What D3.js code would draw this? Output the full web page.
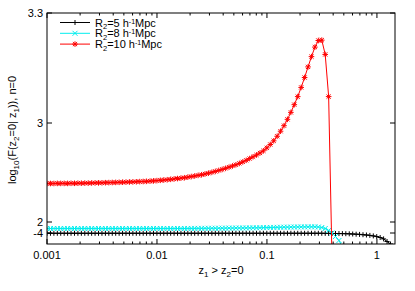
<!DOCTYPE html>
<html>
<head>
<meta charset="utf-8">
<script src="https://cdn.jsdelivr.net/npm/d3@7"></script>
<style>
  html, body { margin: 0; padding: 0; background: #fff; }
  svg text { font-family: "Liberation Sans", Arial, sans-serif; }
</style>
</head>
<body>
<div id="chart"></div>
<script>
'use strict'

// z1 sampling grid (log spaced)
const zGrid = [
  0.001, 0.001075, 0.001155, 0.001241, 0.001333, 0.001433, 0.00154, 0.001654, 0.001778, 0.00191,
  0.002053, 0.002206, 0.00237, 0.002547, 0.002737, 0.002941, 0.00316, 0.003396, 0.003649, 0.003921,
  0.004214, 0.004528, 0.004866, 0.005228, 0.005618, 0.006037, 0.006487, 0.006971, 0.007491, 0.008049,
  0.008649, 0.009294, 0.009987, 0.01073, 0.01153, 0.01239, 0.01332, 0.01431, 0.01538, 0.01652,
  0.01775, 0.01908, 0.0205, 0.02203, 0.02367, 0.02544, 0.02733, 0.02937, 0.03156, 0.03392,
  0.03644, 0.03916, 0.04208, 0.04522, 0.04859, 0.05221, 0.05611, 0.06029, 0.06479, 0.06962,
  0.07481, 0.08038, 0.08638, 0.09282, 0.09974, 0.1072, 0.1152, 0.1238, 0.133, 0.1429,
  0.1536, 0.165, 0.1773, 0.1905, 0.2047, 0.22, 0.2364, 0.254, 0.273, 0.2933,
  0.3152, 0.3387, 0.3639, 0.3911, 0.4202, 0.4516, 0.4852, 0.5214, 0.5603, 0.6021,
  0.647, 0.6952, 0.747, 0.8028, 0.8626, 0.9269, 0.996, 1.07, 1.15, 1.236,
  1.328
]

// R2 = 5 h^-1 Mpc
const r2_5 = [
  -4.16, -4.16, -4.16, -4.16, -4.16, -4.16, -4.16, -4.16, -4.16, -4.16,
  -4.16, -4.16, -4.16, -4.16, -4.16, -4.16, -4.16, -4.16, -4.16, -4.16,
  -4.16, -4.16, -4.16, -4.16, -4.16, -4.16, -4.16, -4.16, -4.16, -4.16,
  -4.16, -4.16, -4.16, -4.16, -4.16, -4.16, -4.16, -4.16, -4.16, -4.16,
  -4.16, -4.16, -4.16, -4.16, -4.16, -4.16, -4.16, -4.16, -4.16, -4.16,
  -4.16, -4.16, -4.16, -4.16, -4.16, -4.16, -4.16, -4.16, -4.16, -4.16,
  -4.16, -4.16, -4.16, -4.16, -4.16, -4.16, -4.16, -4.16, -4.16, -4.16,
  -4.16, -4.16, -4.16, -4.16, -4.16, -4.16, -4.16, -4.16, -4.16, -4.16,
  -4.16, -4.19, -4.22, -4.25, -4.27, -4.30, -4.33, -4.38, -4.44, -4.55,
  -4.65, -4.76, -4.93, -5.09, -5.31, -5.58, -5.96, -6.45, -7.22, -8.64,
  -10.0
]

// R2 = 8 h^-1 Mpc
const r2_8 = [
  -1.55, -1.55, -1.55, -1.55, -1.55, -1.55, -1.55, -1.55, -1.55, -1.55,
  -1.55, -1.55, -1.55, -1.55, -1.55, -1.55, -1.55, -1.55, -1.55, -1.55,
  -1.55, -1.55, -1.55, -1.55, -1.55, -1.55, -1.55, -1.55, -1.55, -1.55,
  -1.55, -1.55, -1.55, -1.55, -1.55, -1.55, -1.55, -1.55, -1.55, -1.55,
  -1.55, -1.53, -1.52, -1.50, -1.49, -1.47, -1.46, -1.44, -1.42, -1.41,
  -1.39, -1.37, -1.35, -1.33, -1.31, -1.29, -1.27, -1.25, -1.23, -1.20,
  -1.18, -1.15, -1.11, -1.07, -1.03, -0.99, -0.95, -0.91, -0.87, -0.83,
  -0.80, -0.77, -0.74, -0.71, -0.68, -0.66, -0.64, -0.63, -0.62, -0.73,
  -1.00, -1.55, -2.64, -4.00, -5.91, -8.09, -11.6
]

// R2 = 10 h^-1 Mpc
const r2_10 = [
  2.389, 2.389, 2.389, 2.390, 2.390, 2.390, 2.390, 2.391, 2.391, 2.392,
  2.392, 2.393, 2.393, 2.394, 2.395, 2.395, 2.396, 2.397, 2.398, 2.399,
  2.400, 2.401, 2.402, 2.403, 2.404, 2.405, 2.406, 2.408, 2.409, 2.411,
  2.413, 2.415, 2.418, 2.421, 2.424, 2.427, 2.431, 2.435, 2.439, 2.443,
  2.447, 2.453, 2.459, 2.465, 2.471, 2.477, 2.485, 2.493, 2.502, 2.511,
  2.521, 2.531, 2.542, 2.554, 2.566, 2.578, 2.592, 2.607, 2.623, 2.641,
  2.659, 2.677, 2.697, 2.719, 2.749, 2.783, 2.820, 2.866, 2.917, 2.973,
  3.010, 3.029, 3.050, 3.072, 3.097, 3.124, 3.153, 3.181, 3.207, 3.225,
  3.226, 3.187, 3.072, -20
]

const seriesNames = ['5', '8', '10']
const xTickValues = [0.001, 0.01, 0.1, 1]
const xTickLabels = ['0.001', '0.01', '0.1', '1']
const yTickValues = [3.3, 3, 2, -4]
const yTickLabels = ['3.3', '3', '2', '-4']

////////////////////////////////////
//////////// svg setup /////////////
////////////////////////////////////

const svgWidth = 415
const svgHeight = 291
const margin = { left: 47, right: 20, top: 13, bottom: 47 }
const width = svgWidth - margin.left - margin.right
const height = svgHeight - margin.top - margin.bottom

const svg = d3.select('#chart')
  .append('svg')
  .attr('width', svgWidth)
  .attr('height', svgHeight)

const g = svg.append('g')
  .attr('transform', `translate(${margin.left},${margin.top})`)

////////////////////////////////////
//////////// Scales ////////////////
////////////////////////////////////

const x = d3.scaleLog().domain([0.001, 1.46]).range([0, width])
// the y axis of the original is piecewise: each labelled value has its own spot
const y = d3.scaleLinear()
  .domain([-10, -4, 2, 3, 3.3])
  .range([height, height - 11, height - 22, height - 121, 0])

const colors = { '5': '#000000', '8': '#00eeee', '10': '#ff0000' }

// stroke-only markers like gnuplot's point types 1, 2 and 3
const plus = { draw(ctx, s) { ctx.moveTo(-s, 0); ctx.lineTo(s, 0); ctx.moveTo(0, -s); ctx.lineTo(0, s) } }
const cross = { draw(ctx, s) { ctx.moveTo(-s, -s); ctx.lineTo(s, s); ctx.moveTo(-s, s); ctx.lineTo(s, -s) } }
const star = { draw(ctx, s) { plus.draw(ctx, s); const t = s * 0.75; cross.draw(ctx, t) } }
const markerTypes = { '5': plus, '8': cross, '10': star }
const markerSizes = { '5': 2.5, '8': 2.5, '10': 2.8 }

const series = [
  { name: '5', values: r2_5 },
  { name: '8', values: r2_8 },
  { name: '10', values: r2_10 }
].map(s => ({ name: s.name, points: s.values.map((v, i) => ({ z: zGrid[i], v: v })) }))

////////////////////////////////////
//////////// axes //////////////////
////////////////////////////////////

const axisColor = '#000'
const fontSize = 11

const minorTicks = []
xTickValues.forEach(d => { for (let k = 2; k <= 9; k++) { if (d * k <= 1.46) minorTicks.push(d * k) } })

// x ticks bottom + top mirrored
g.selectAll('.xmajor').data(xTickValues).join('path')
  .attr('d', d => `M${x(d)},${height}v-5M${x(d)},0v5`)
  .attr('stroke', axisColor).attr('stroke-width', 1)
g.selectAll('.xminor').data(minorTicks).join('path')
  .attr('d', d => `M${x(d)},${height}v-2.5M${x(d)},0v2.5`)
  .attr('stroke', axisColor).attr('stroke-width', 1)

// y ticks left + right mirrored
g.selectAll('.ymajor').data(yTickValues).join('path')
  .attr('d', d => `M0,${y(d)}h5M${width},${y(d)}h-5`)
  .attr('stroke', axisColor).attr('stroke-width', 1)

g.selectAll('.xlabel').data(xTickValues).join('text')
  .attr('x', d => x(d))
  .attr('y', height + 15)
  .attr('text-anchor', 'middle')
  .style('font-size', fontSize + 'px')
  .text((d, i) => xTickLabels[i])

g.selectAll('.ylabel').data(yTickValues).join('text')
  .attr('x', -4)
  .attr('y', d => y(d) + 4)
  .attr('text-anchor', 'end')
  .style('font-size', fontSize + 'px')
  .text((d, i) => yTickLabels[i])

// x axis title: z1 > z2=0
const xt = svg.append('text')
  .attr('x', margin.left + width / 2)
  .attr('y', 274)
  .attr('text-anchor', 'middle')
  .style('font-size', fontSize + 'px')
xt.append('tspan').text('z')
xt.append('tspan').attr('dy', 3).style('font-size', '8px').text('1')
xt.append('tspan').attr('dy', -3).text(' > z')
xt.append('tspan').attr('dy', 3).style('font-size', '8px').text('2')
xt.append('tspan').attr('dy', -3).text('=0')

// y axis title: log10(F(z2=0| z1)), n=0
const yt = svg.append('text')
  .attr('transform', `translate(16,${margin.top + 117}) rotate(-90)`)
  .attr('text-anchor', 'middle')
  .style('font-size', fontSize + 'px')
yt.append('tspan').text('log')
yt.append('tspan').attr('dy', 3).style('font-size', '8px').text('10')
yt.append('tspan').attr('dy', -3).text('(F(z')
yt.append('tspan').attr('dy', 3).style('font-size', '8px').text('2')
yt.append('tspan').attr('dy', -3).text('=0| z')
yt.append('tspan').attr('dy', 3).style('font-size', '8px').text('1')
yt.append('tspan').attr('dy', -3).text(')), n=0')

////////////////////////////////////
//////////// lines /////////////////
////////////////////////////////////

g.append('clipPath').attr('id', 'plotclip')
  .append('rect').attr('x', 0).attr('y', 0).attr('width', width).attr('height', height)

const plot = g.append('g').attr('clip-path', 'url(#plotclip)')

const line = d3.line().x(d => x(d.z)).y(d => y(d.v))

series.forEach(s => {
  plot.append('path')
    .datum(s.points)
    .attr('fill', 'none')
    .attr('stroke', colors[s.name])
    .attr('stroke-width', 1)
    .attr('d', line)

  plot.selectAll(null)
    .data(s.points)
    .join('path')
    .attr('transform', d => `translate(${x(d.z)},${y(d.v)})`)
    .attr('d', d3.symbol().type(markerTypes[s.name]).size(markerSizes[s.name]))
    .attr('fill', 'none')
    .attr('stroke', colors[s.name])
    .attr('stroke-width', 1)
})

// frame
g.append('rect')
  .attr('x', 0).attr('y', 0)
  .attr('width', width).attr('height', height)
  .attr('fill', 'none')
  .attr('stroke', axisColor)
  .attr('stroke-width', 1)

////////////////////////////////////
//////////// legend ////////////////
////////////////////////////////////

const legend = g.append('g').attr('transform', 'translate(13,9.5)')
series.forEach((s, i) => {
  const row = legend.append('g').attr('transform', `translate(0,${i * 10.8})`)
  row.append('line').attr('x1', 0).attr('x2', 30).attr('y1', 0).attr('y2', 0)
    .attr('stroke', colors[s.name]).attr('stroke-width', 1)
  row.append('path').attr('transform', 'translate(15,0)')
    .attr('d', d3.symbol().type(markerTypes[s.name]).size(markerSizes[s.name]))
    .attr('fill', 'none').attr('stroke', colors[s.name])
  const t = row.append('text').attr('x', 35).attr('y', 4).style('font-size', fontSize + 'px')
  t.append('tspan').text('R')
  t.append('tspan').attr('dy', 2.5).style('font-size', '7.5px').text('2')
  t.append('tspan').attr('dy', -2.5).text('=' + s.name + ' h')
  t.append('tspan').attr('dy', -3).style('font-size', '7px').text('-1')
  t.append('tspan').attr('dy', 3).text('Mpc')
})
</script>
</body>
</html>
